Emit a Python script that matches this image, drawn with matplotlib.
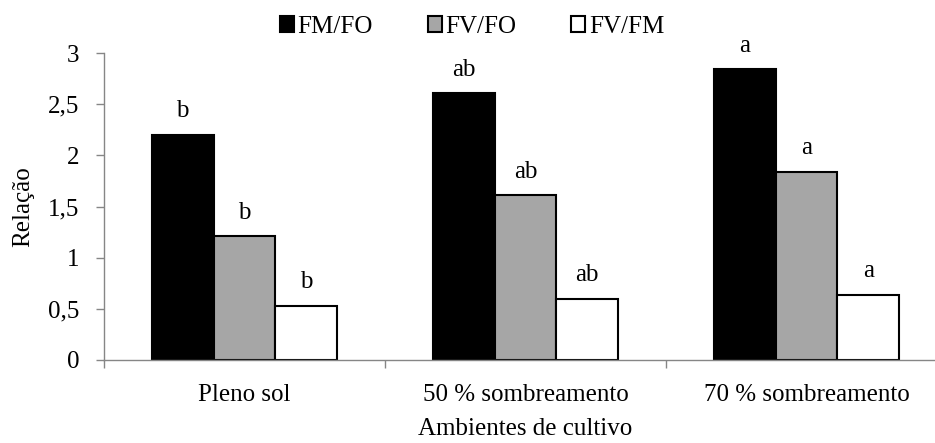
import numpy as np
import matplotlib
matplotlib.use("Agg")
import matplotlib.pyplot as plt

# data
categories = ["Pleno sol", "50 % sombreamento", "70 % sombreamento"]
series_names = ["FM/FO", "FV/FO", "FV/FM"]
fm_fo = [2.20, 2.61, 2.84]
fv_fo = [1.21, 1.61, 1.84]
fv_fm = [0.53, 0.60, 0.64]
letters_fm_fo = ["b", "ab", "a"]
letters_fv_fo = ["b", "ab", "a"]
letters_fv_fm = ["b", "ab", "a"]
y_ticks = [0, 0.5, 1, 1.5, 2, 2.5, 3]
y_tick_labels = ["0", "0,5", "1", "1,5", "2", "2,5", "3"]

plt.rcParams["font.family"] = ["Liberation Serif", "DejaVu Serif"]
plt.rcParams["font.size"] = 18

W, H = 935, 443
fig = plt.figure(figsize=(W / 100, H / 100), dpi=100)
left, right, bottom, top = 104, 947, 360, 53
ax = fig.add_axes([left / W, 1 - bottom / H, (right - left) / W, (bottom - top) / H])

x = np.arange(len(categories))
width = 0.22
colors = ["#000000", "#a6a6a6", "#ffffff"]
all_values = [fm_fo, fv_fo, fv_fm]
all_letters = [letters_fm_fo, letters_fv_fo, letters_fv_fm]

for i, (vals, lets) in enumerate(zip(all_values, all_letters)):
    pos = x + (i - 1) * width
    ax.bar(pos, vals, width, color=colors[i], edgecolor="black", linewidth=1.5,
           label=series_names[i], zorder=2)
    for px, v, t in zip(pos, vals, lets):
        ax.text(px, v + 0.17, t, ha="center", va="baseline", fontsize=18)

ax.set_xlim(-0.5, 2.5)
ax.set_ylim(0, 3)
ax.set_yticks(y_ticks)
ax.set_yticklabels(y_tick_labels)
ax.set_xticks(x)
ax.set_xticklabels(categories)
ax.set_xticks([-0.5, 0.5, 1.5, 2.5], minor=True)
ax.tick_params(axis="x", which="major", length=0, pad=17)
ax.tick_params(axis="x", which="minor", length=6, width=1, color="#868686", direction="out")
ax.tick_params(axis="y", length=6, width=1, color="#868686", pad=12)

for s in ["top", "right"]:
    ax.spines[s].set_visible(False)
for s in ["left", "bottom"]:
    ax.spines[s].set_color("#868686")
    ax.spines[s].set_linewidth(1)

ax.set_ylabel("Relação", labelpad=10)
ax.set_xlabel("Ambientes de cultivo", labelpad=9)

fig.legend(loc="center", bbox_to_anchor=(0.505, 0.939), ncol=3, frameon=False,
           handlelength=0.55, handleheight=0.6, handletextpad=0.15,
           columnspacing=2.2, fontsize=18)

fig.savefig("out.png", dpi=100)
